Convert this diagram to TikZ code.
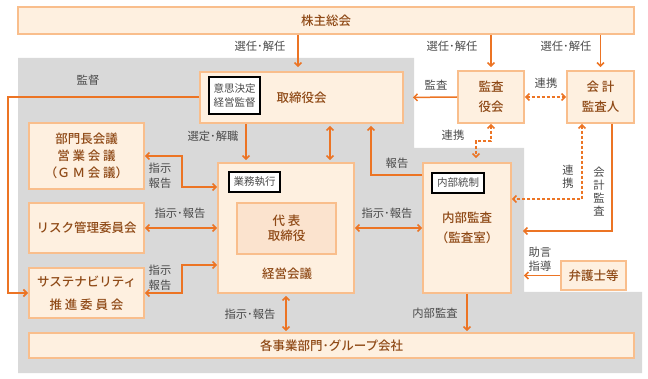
\documentclass[tikz,border=0pt]{standalone}
\usepackage{fontspec}
\setmainfont{Noto Sans CJK JP}
\newfontfamily\gvmedium{Noto Sans CJK JP Medium}
\usetikzlibrary{arrows.meta}

\definecolor{gvFill}{HTML}{FEF0E0}
\definecolor{gvInner}{HTML}{FBE3CE}
\definecolor{gvEdge}{HTML}{F9BE8C}
\definecolor{gvOrange}{HTML}{EC7424}
\definecolor{gvBrown}{HTML}{8F4A17}
\definecolor{gvInk}{HTML}{4A4A4A}
\definecolor{gvGray}{HTML}{D9D9D9}

\begin{document}
\begin{tikzpicture}[
  x=1pt, y=-1pt, text=gvInk,
  gv box/.style={draw=gvEdge,fill=gvFill,line width=1.8pt,text=gvBrown,
    align=center,inner sep=0pt,font=\gvmedium\fontsize{12.5}{17}\selectfont},
  gv tag/.style={draw=black,fill=white,line width=1.1pt,text=gvInk,
    align=center,inner sep=0pt,font=\fontsize{10.5}{14}\selectfont},
  gv label/.style={text=gvInk,align=center,inner sep=0pt,
    font=\fontsize{11.3}{14.5}\selectfont},
  gv line/.style={draw=gvOrange,line width=1.5pt},
  gv arrow/.style={gv line,-{Straight Barb[length=3.5pt,width=7pt]}},
  gv both/.style={gv arrow,{Straight Barb[length=3.5pt,width=7pt]}-{Straight Barb[length=3.5pt,width=7pt]}},
  gv dash/.style={gv both,dash pattern=on 3pt off 2pt}
]
\useasboundingbox (0,0) rectangle (648,379);

% Grey area of the company organisation.
\fill[gvGray] (18,58) -- (414,58) -- (414,148) -- (524,148) -- (524,292)
  -- (642,292) -- (642,373) -- (18,373) -- cycle;

% Boxes.
\node[gv box,minimum width=616,minimum height=27] (soukai) at (326,20.5) {株主総会};
\node[gv box,minimum width=203,minimum height=51] (torishimari) at (301.5,97.5) {取締役会};
\node[gv box,minimum width=66,minimum height=52,font=\gvmedium\fontsize{12.5}{20}\selectfont]
  (kansayaku) at (491,97) {監査\\役会};
\node[gv box,minimum width=67,minimum height=52,font=\gvmedium\fontsize{12.5}{20}\selectfont]
  (kaikei) at (600.5,97) {会 計\\監査人};
\node[gv box,minimum width=115,minimum height=66] (bumon) at (86.5,156)
  {部門長会議\\営 業 会 議\\（Ｇ Ｍ 会 議）};
\node[gv box,minimum width=115,minimum height=50] (risk) at (86.5,228) {リスク管理委員会};
\node[gv box,minimum width=115,minimum height=50,font=\gvmedium\fontsize{12.5}{23}\selectfont]
  (sustain) at (86.5,293) {サステナビリティ\\推 進 委 員 会};
\node[gv box,minimum width=136,minimum height=130] (keiei) at (286,228) {};
\node[gv box,fill=gvInner,minimum width=99,minimum height=51,font=\gvmedium\fontsize{12.5}{15}\selectfont]
  (daihyo) at (286.5,228.5) {代 表\\取締役};
\node[gv box,draw=none,fill=none] (keieitext) at (287,274) {経営会議};
\node[gv box,minimum width=88,minimum height=130,font=\gvmedium\fontsize{12.5}{20}\selectfont]
  (naibu) at (467,228) {内部監査\\（監査室）};
\node[gv box,minimum width=65,minimum height=29] (bengo) at (593.5,275.5) {弁護士等};
\node[gv box,minimum width=605,minimum height=25] (jigyo) at (331.5,345.5)
  {各事業部門･グループ会社};

% Function tags.
\node[gv tag,minimum width=51,minimum height=37] (ishi) at (234.5,95.5) {意思決定\\経営監督};
\node[gv tag,minimum width=51,minimum height=20] (gyomu) at (254.5,182) {業務執行};
\node[gv tag,minimum width=52,minimum height=20] (tousei) at (458,183) {内部統制};

% Election by the shareholders.
\draw[gv arrow,shorten >=4pt] (soukai.south -| 298,0) -- (torishimari.north -| 298,0);
\draw[gv arrow,shorten >=3pt] (soukai.south -| kansayaku) -- (kansayaku.north);
\draw[gv arrow,shorten >=3pt] (soukai.south -| kaikei) -- (kaikei.north);
\node[gv label] (sel1) at (260,46) {選任･解任};
\node[gv label] (sel2) at (452,46) {選任･解任};
\node[gv label] (sel3) at (566,46) {選任･解任};

% Audit lines.
\draw[gv arrow,shorten >=9pt] (kansayaku.west) -- (torishimari.east);
\node[gv label] (kansa) at (436,85) {監査};
\draw[gv dash] (kansayaku.east) -- (kaikei.west);
\node[gv label] (renkei1) at (546,83) {連携};
\draw[gv dash,shorten >=4pt] (kansayaku.south) -- ++(0,17) -| ([xshift=9pt]naibu.north);
\node[gv label] (renkei2) at (453,135) {連携};
\draw[gv dash] ([xshift=-18.5pt]kaikei.south) |- ([yshift=29pt]naibu.east);
\node[gv label,font=\fontsize{11.3}{13}\selectfont] (renkei3) at (568,177) {連\\携};
\draw[gv arrow,shorten >=11pt] ([xshift=11.5pt]kaikei.south) |- ([yshift=-3pt]naibu.east);
\node[gv label,font=\fontsize{11.3}{13}\selectfont] (kaikeikansa) at (599,192) {会\\計\\監\\査};
\draw[gv arrow,shorten >=12pt] (bengo.west) -- (naibu.east |- bengo.west);
\node[gv label] (jogen) at (540,259) {助言\\指導};
\draw[gv arrow,shorten >=2pt] ([yshift=53pt]naibu.west) -| ([xshift=69.5pt]torishimari.south);
\node[gv label] (houkoku) at (397,163) {報告};

% Board and management.
\draw[gv both,shorten <=2pt,shorten >=2pt] (torishimari.south -| 330,0) -- (keiei.north -| 330,0);
\draw[gv arrow,shorten >=2pt] (torishimari.south -| 246,0) -- (keiei.north -| 246,0);
\node[gv label] (sentei) at (213,136) {選定･解職};
\coordinate (kantokutop) at (8,97);
\coordinate (kantokucorner) at (8,293);
\draw[gv arrow,line width=1.7pt] ([yshift=0.5pt]torishimari.west) -- (kantokutop) -- (kantokucorner)
  -- (sustain.west);
\node[gv label] (kantoku) at (88,80) {監督};

% Committees and management meeting.
\draw[gv both] (bumon.east) -- ++(37,0) |- ([yshift=41pt]keiei.west);
\node[gv label] (shiji1) at (160,176) {指示\\報告};
\draw[gv both] (risk.east) -- (keiei.west |- risk.east);
\node[gv label] (shiji2) at (180,213) {指示･報告};
\draw[gv both] (sustain.east) -- ++(37,0) |- ([yshift=-37pt]keiei.west);
\node[gv label] (shiji3) at (160,278) {指示\\報告};
\draw[gv both] (keiei.east) -- (naibu.west);
\node[gv label] (shiji4) at (387,213) {指示･報告};

% Business divisions.
\draw[gv both,shorten <=2pt,shorten >=1pt] (keiei.south) -- (keiei.south |- jigyo.north);
\node[gv label] (shiji5) at (250,314) {指示･報告};
\draw[gv arrow,shorten >=1pt] (naibu.south) -- (naibu.south |- jigyo.north);
\node[gv label] (naibukansa) at (435,313) {内部監査};
\end{tikzpicture}
\end{document}
